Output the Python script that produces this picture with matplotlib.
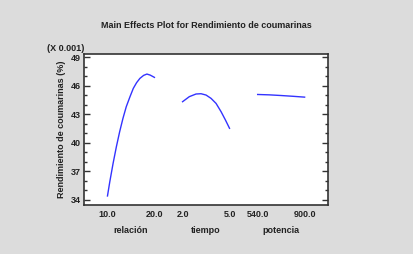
import numpy as np
import matplotlib
matplotlib.use('Agg')
from matplotlib import pyplot as plt

plt.rcParams["font.family"] = ["Liberation Sans", "DejaVu Sans"]
plt.rcParams["font.weight"] = "bold"
plt.rcParams["axes.labelweight"] = "bold"

# factor levels and fitted response (x 0.001)
relacion_x = [10.0, 10.5, 11.2, 11.9, 12.6, 13.3, 14.0, 14.8, 15.5, 16.2, 16.9, 17.7, 18.4, 19.1, 20.0]
relacion_y = [34.42, 35.93, 37.86, 39.61, 41.19, 42.59, 43.81, 44.87, 45.74, 46.34, 46.79, 47.11, 47.25, 47.14, 46.90]
tiempo_x = [2.0, 2.43, 2.86, 3.18, 3.5, 3.82, 4.14, 4.46, 4.74, 5.0]
tiempo_y = [44.34, 44.87, 45.15, 45.18, 45.04, 44.69, 44.16, 43.29, 42.41, 41.54]
potencia_x = [540.0, 630.0, 720.0, 810.0, 900.0]
potencia_y = [45.10, 45.06, 44.99, 44.91, 44.82]

factores = ["relación", "tiempo", "potencia"]
series = [(relacion_x, relacion_y), (tiempo_x, tiempo_y), (potencia_x, potencia_y)]
y_ticks = [34, 37, 40, 43, 46, 49]
y_minor = list(range(34, 50))

fig = plt.figure(figsize=(4.13, 2.54), dpi=100, facecolor="#dcdcdc")
ax = fig.add_axes([0.2034, 0.193, 0.591, 0.594])
ax.set_facecolor("white")

paso = 1.6  # spacing between factor panels
for i, (xs, ys) in enumerate(series):
    xs = np.array(xs)
    lo, hi = xs.min(), xs.max()
    pos = i * paso + (xs - lo) / (hi - lo)
    ax.plot(pos, ys, color="#3333ff", lw=1.0)
    ax.text(i * paso, -0.065, f"{lo:.1f}", transform=ax.get_xaxis_transform(),
            ha="center", va="center", fontsize=6.5, color="#222222")
    ax.text(i * paso + 1, -0.065, f"{hi:.1f}", transform=ax.get_xaxis_transform(),
            ha="center", va="center", fontsize=6.5, color="#222222")
    ax.text(i * paso + 0.5, -0.17, factores[i], transform=ax.get_xaxis_transform(),
            ha="center", va="center", fontsize=6.5, color="#222222")

ax.set_xlim(-0.5, 2 * paso + 1.5)
ax.set_ylim(33.47, 49.35)
ax.set_xticks([])
ax.set_yticks(y_ticks)
ax.set_yticks(y_minor, minor=True)
ax.tick_params(axis="y", which="both", direction="in", left=True, right=True,
               labelsize=6.5, colors="#333333", labelcolor="#222222", pad=2)
ax.tick_params(axis="y", which="major", length=4, width=1)
ax.tick_params(axis="y", which="minor", length=2.5, width=1)
for s in ax.spines.values():
    s.set_color("#333333")
    s.set_linewidth(1.2)

ax.set_ylabel("Rendimiento de coumarinas (%)", fontsize=6.5, color="#222222", labelpad=4)
ax.text(0, 1.005, "(X 0.001)", transform=ax.transAxes, ha="right", va="bottom",
        fontsize=6.5, color="#222222")
fig.text(0.5, 0.90, "Main Effects Plot for Rendimiento de coumarinas",
         ha="center", va="center", fontsize=6.5, color="#222222")

fig.savefig("out.png", dpi=100, facecolor=fig.get_facecolor())
